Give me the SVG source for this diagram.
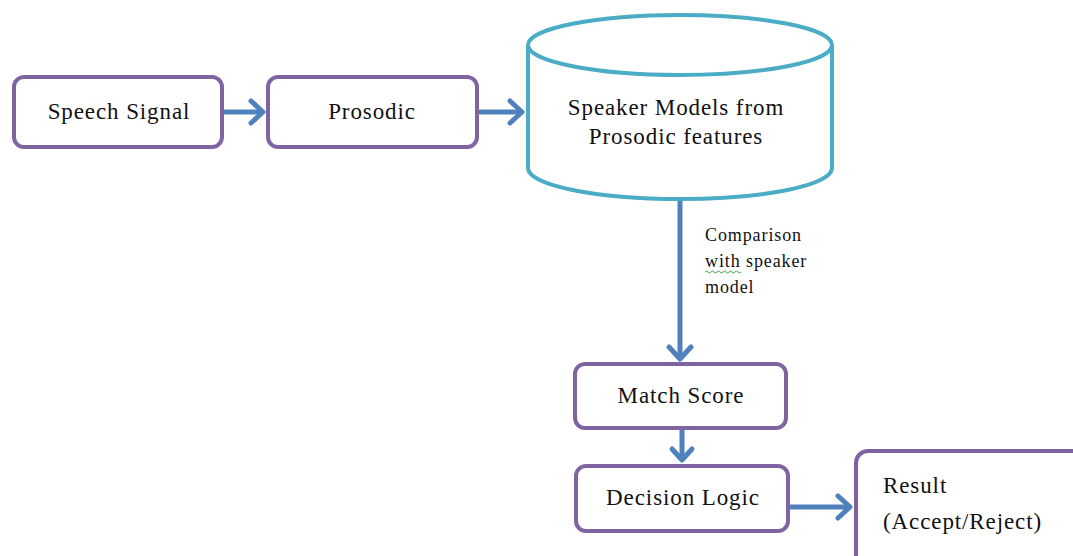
<svg xmlns="http://www.w3.org/2000/svg" width="1073" height="556" viewBox="0 0 1073 556">
  <style>
    .box { fill: #ffffff; stroke: #8064A2; stroke-width: 4; }
    .db { fill: #ffffff; stroke: #4BACC6; stroke-width: 4; }
    .lbl { font-family: "Liberation Serif", "Times New Roman", serif; font-size: 23px; letter-spacing: 0.9px; fill: #111111; }
    .note { font-family: "Liberation Serif", "Times New Roman", serif; font-size: 18px; letter-spacing: 0.9px; fill: #111111; }
    .conn { fill: none; stroke: #4F81BD; stroke-width: 5; }
    .head { fill: none; stroke: #4F81BD; stroke-width: 5; stroke-linecap: round; stroke-linejoin: round; }
  </style>
  <rect width="1073" height="556" fill="#ffffff"/>

  <g id="connectors">
    <!-- Speech Signal -> Prosodic -->
    <line class="conn" x1="222" y1="112" x2="262" y2="112"/>
    <polyline class="head" points="251,101 263,112 251,123"/>
    <!-- Prosodic -> Speaker Models -->
    <line class="conn" x1="477" y1="112" x2="521" y2="112"/>
    <polyline class="head" points="510,101 522,112 510,123"/>
    <!-- Speaker Models -> Match Score -->
    <line class="conn" x1="680" y1="200" x2="680" y2="358"/>
    <polyline class="head" points="669,347 680,359 691,347"/>
    <!-- Match Score -> Decision Logic -->
    <line class="conn" x1="682" y1="429" x2="682" y2="459"/>
    <polyline class="head" points="672,449 682,460 692,449"/>
    <!-- Decision Logic -> Result -->
    <line class="conn" x1="789" y1="507" x2="849" y2="507"/>
    <polyline class="head" points="838,496 850,507 838,518"/>
    <!-- connector label -->
    <text class="note" x="705" y="241">Comparison</text>
    <text class="note" x="705" y="267">with speaker</text>
    <text class="note" x="705" y="293">model</text>
    <path d="M705,272 q1.5,-2 3,0 t3,0 t3,0 t3,0 t3,0 t3,0 t3,0 t3,0 t3,0 t3,0 t3,0 t3,0" fill="none" stroke="#3aa648" stroke-width="1"/>
  </g>

  <g id="speech-signal">
    <rect class="box" x="14" y="77" width="208" height="70" rx="10"/>
    <text class="lbl" x="119" y="119" text-anchor="middle">Speech Signal</text>
  </g>

  <g id="prosodic">
    <rect class="box" x="268" y="77" width="209" height="70" rx="10"/>
    <text class="lbl" x="372" y="119" text-anchor="middle">Prosodic</text>
  </g>

  <g id="speaker-models">
    <path class="db" d="M528,45 L528,168 A152,31 0 0 0 832,168 L832,45"/>
    <ellipse class="db" cx="680" cy="45" rx="152" ry="30"/>
    <text class="lbl" x="676" y="115" text-anchor="middle">Speaker Models from</text>
    <text class="lbl" x="676" y="144" text-anchor="middle">Prosodic features</text>
  </g>

  <g id="match-score">
    <rect class="box" x="575" y="364" width="211" height="64" rx="10"/>
    <text class="lbl" x="681" y="403" text-anchor="middle">Match Score</text>
  </g>

  <g id="decision-logic">
    <rect class="box" x="576" y="466" width="212" height="65" rx="10"/>
    <text class="lbl" x="683" y="505" text-anchor="middle">Decision Logic</text>
  </g>

  <g id="result">
    <rect class="box" x="856" y="451" width="230" height="120" rx="12"/>
    <text class="lbl" x="883" y="493">Result</text>
    <text class="lbl" x="883" y="529">(Accept/Reject)</text>
  </g>
</svg>
